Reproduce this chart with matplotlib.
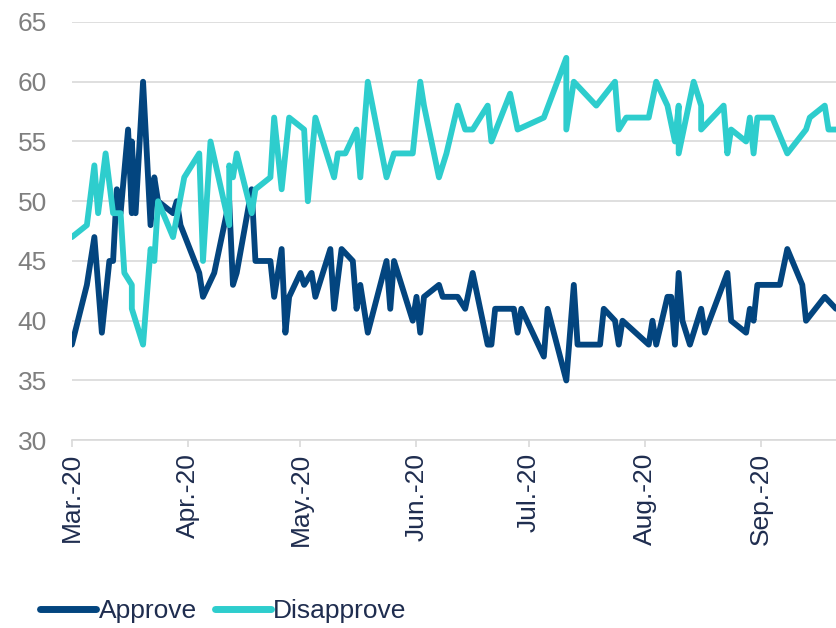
import matplotlib
matplotlib.use("Agg")
import matplotlib.pyplot as plt
import matplotlib.dates as mdates
import pandas as pd

YEAR = "2020-"

# approval poll readings (month-day, percent)
approve_dates = [
    "03-01", "03-05", "03-07", "03-09", "03-11", "03-12", "03-13", "03-14",
    "03-16", "03-17", "03-17", "03-18", "03-20", "03-22", "03-23", "03-24",
    "03-28", "03-29", "03-30", "04-04", "04-05", "04-08", "04-12", "04-13",
    "04-14", "04-18", "04-19", "04-23", "04-24", "04-26", "04-27", "04-28",
    "05-01", "05-02", "05-04", "05-05", "05-09", "05-10", "05-12", "05-15",
    "05-16", "05-17", "05-19", "05-24", "05-25", "05-26", "05-29", "05-31",
    "06-01", "06-02", "06-03", "06-07", "06-08", "06-12", "06-14", "06-16",
    "06-20", "06-21", "06-22", "06-26", "06-27", "06-28", "06-29", "07-05",
    "07-06", "07-11", "07-13", "07-14", "07-20", "07-21", "07-24", "07-25",
    "07-26", "08-02", "08-03", "08-04", "08-07", "08-08", "08-09", "08-10",
    "08-11", "08-13", "08-16", "08-17", "08-23", "08-24", "08-28", "08-29",
    "08-30", "08-31", "09-01", "09-06", "09-08", "09-12", "09-13", "09-18",
    "09-21",
]
approve_values = [
    38, 43, 47, 39, 45, 45, 51, 49,
    56, 49, 55, 49, 60, 48, 52, 50,
    49, 50, 48, 44, 42, 44, 50, 43,
    44, 51, 45, 45, 42, 46, 39, 42,
    44, 43, 44, 42, 46, 41, 46, 45,
    41, 43, 39, 45, 41, 45, 42, 40,
    42, 39, 42, 43, 42, 42, 41, 44,
    38, 38, 41, 41, 41, 39, 41, 37,
    41, 35, 43, 38, 38, 41, 40, 38,
    40, 38, 40, 38, 42, 42, 38, 44,
    40, 38, 41, 39, 44, 40, 39, 41,
    40, 43, 43, 43, 46, 43, 40, 42,
    41,
]

disapprove_dates = [
    "03-01", "03-05", "03-07", "03-08", "03-10", "03-12", "03-14", "03-15",
    "03-17", "03-17", "03-20", "03-22", "03-23", "03-24", "03-28", "03-31",
    "04-04", "04-05", "04-07", "04-12", "04-12", "04-13", "04-14", "04-18",
    "04-19", "04-23", "04-24", "04-26", "04-28", "05-02", "05-03", "05-05",
    "05-10", "05-11", "05-13", "05-16", "05-17", "05-19", "05-24", "05-26",
    "05-31", "06-02", "06-03", "06-07", "06-09", "06-12", "06-14", "06-16",
    "06-20", "06-21", "06-26", "06-28", "07-05", "07-11", "07-11", "07-13",
    "07-19", "07-24", "07-25", "07-27", "08-02", "08-04", "08-07", "08-09",
    "08-10", "08-10", "08-14", "08-16", "08-16", "08-22", "08-23", "08-24",
    "08-28", "08-29", "08-30", "08-31", "09-04", "09-08", "09-13", "09-14",
    "09-18", "09-19", "09-21",
]
disapprove_values = [
    47, 48, 53, 49, 54, 49, 49, 44,
    43, 41, 38, 46, 45, 50, 47, 52,
    54, 45, 55, 48, 53, 52, 54, 49,
    51, 52, 57, 51, 57, 56, 50, 57,
    52, 54, 54, 56, 52, 60, 52, 54,
    54, 60, 58, 52, 54, 58, 56, 56,
    58, 55, 59, 56, 57, 62, 56, 60,
    58, 60, 56, 57, 57, 60, 58, 55,
    58, 54, 60, 58, 56, 58, 54, 56,
    55, 57, 54, 57, 57, 54, 56, 57,
    58, 56, 56,
]

APPROVE_COLOR = "#03457f"
DISAPPROVE_COLOR = "#2ecdcd"
LW = 4.2

plt.rcParams["font.family"] = ["Liberation Sans", "DejaVu Sans"]

fig = plt.figure(figsize=(8.36, 6.28), dpi=100)
ax = fig.add_axes([0.086, 0.299, 0.914, 0.666])

x_app = pd.to_datetime([YEAR + d for d in approve_dates])
x_dis = pd.to_datetime([YEAR + d for d in disapprove_dates])

ax.plot(x_app, approve_values, color=APPROVE_COLOR, lw=LW,
        solid_joinstyle="round", solid_capstyle="round", label="Approve")
ax.plot(x_dis, disapprove_values, color=DISAPPROVE_COLOR, lw=LW,
        solid_joinstyle="round", solid_capstyle="round", label="Disapprove")

ax.set_ylim(30, 65)
ax.set_yticks(range(30, 66, 5))
ax.set_xlim(pd.Timestamp("2020-03-01"), pd.Timestamp("2020-09-21"))

ax.xaxis.set_major_locator(mdates.MonthLocator())
ax.xaxis.set_major_formatter(mdates.DateFormatter("%b.-%y"))

# light horizontal grid, no frame
ax.grid(axis="y", color="#d9d9d9", lw=1.2)
ax.set_axisbelow(True)
for side in ["top", "right", "left"]:
    ax.spines[side].set_visible(False)
ax.spines["bottom"].set_color("#d9d9d9")
ax.spines["bottom"].set_linewidth(1.2)

ax.tick_params(axis="y", length=0, labelsize=19, labelcolor="#7f7f7f", pad=18)
ax.tick_params(axis="x", length=5, color="#d9d9d9", width=1.2,
               labelsize=19, labelcolor="#1f2d4f", labelrotation=90, pad=4)

leg = fig.legend(loc="lower left", bbox_to_anchor=(0.02, -0.03), ncol=2,
                 frameon=False, fontsize=19, handlelength=2.1,
                 handletextpad=0.1, columnspacing=0.7, labelcolor="#1f2d4f")
for line in leg.get_lines():
    line.set_linewidth(5)

plt.savefig("out.png", dpi=100)
